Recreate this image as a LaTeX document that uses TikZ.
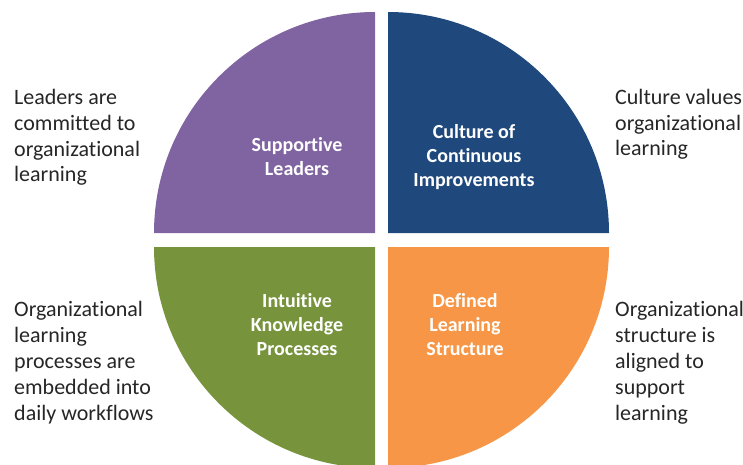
\documentclass[tikz,border=0pt]{standalone}
\usepackage{fontspec}
\setmainfont{Carlito}[Ligatures=NoCommon]
\definecolor{qpurple}{HTML}{8064A2}
\definecolor{qblue}{HTML}{1F497D}
\definecolor{qgreen}{HTML}{77933C}
\definecolor{qorange}{HTML}{F79646}
\definecolor{sidetext}{HTML}{262626}
\tikzset{
  sidelabel/.style={anchor=base west, align=left, inner sep=0pt, text=sidetext,
    font=\fontsize{22}{26}\selectfont},
  quadlabel/.style={align=center, inner sep=0pt, text=white,
    font=\fontsize{20}{24}\selectfont\bfseries},
}
\begin{document}
\begin{tikzpicture}[x=1pt,y=1pt]
\useasboundingbox (0,0) rectangle (743,464);
\clip (0,0) rectangle (743,464);
% quadrants (y measured upward: y' = 464 - y)
\fill[qpurple] (375,231) -- (154,231) arc[start angle=180,end angle=90,radius=221] -- cycle;
\fill[qblue] (388,231) -- (388,452) arc[start angle=90,end angle=0,radius=221] -- cycle;
\fill[qgreen] (375,217) -- (154,217) arc[start angle=180,end angle=270,radius=221] -- cycle;
\fill[qorange] (388,217) -- (609,217) arc[start angle=0,end angle=-90,radius=221] -- cycle;
% quadrant labels
\node[quadlabel] (sl) at (297,307) {Supportive\\Leaders};
\node[quadlabel] (cc) at (474,307) {Culture of\\Continuous\\Improvements};
\node[quadlabel] (ik) at (297,139) {Intuitive\\Knowledge\\Processes};
\node[quadlabel] (dl) at (465,139) {Defined\\Learning\\Structure};
% side texts (base anchor = baseline of last line)
\node[sidelabel] (tl) at (14,282) {Leaders are\\committed to\\organizational\\learning};
\node[sidelabel] (tr) at (615,308) {Culture values\\organizational\\learning};
\node[sidelabel] (bl) at (14,44) {Organizational\\learning\\processes are\\embedded into\\daily workflows};
\node[sidelabel] (br) at (615,44) {Organizational\\structure is\\aligned to\\support\\learning};
\end{tikzpicture}
\end{document}
